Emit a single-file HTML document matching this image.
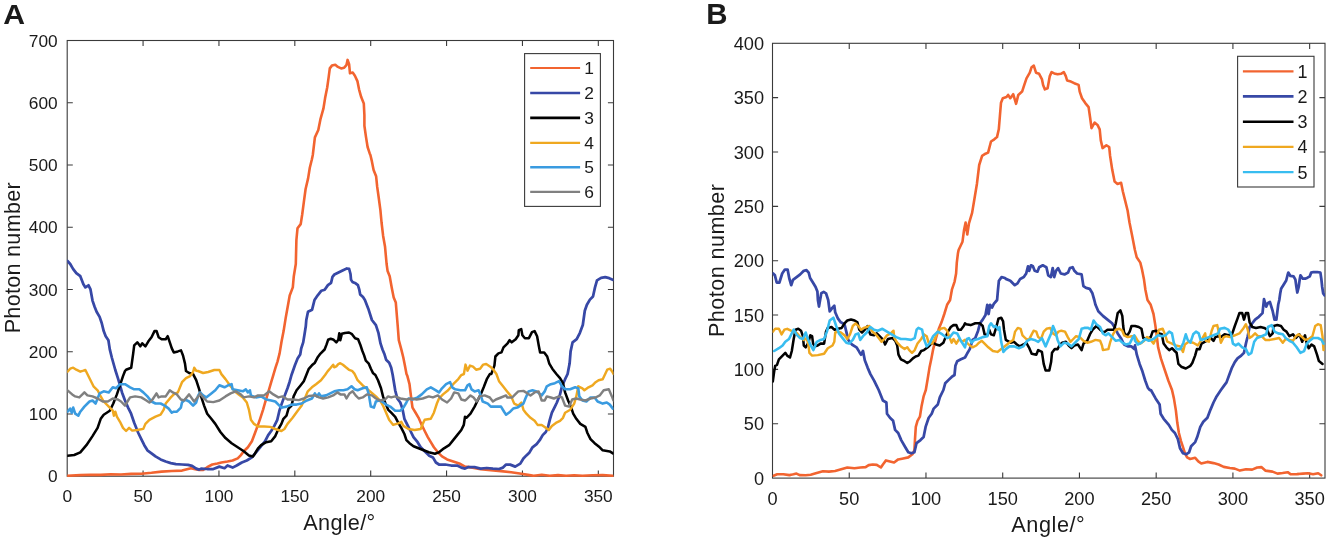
<!DOCTYPE html>
<html><head><meta charset="utf-8"><title>Figure</title>
<style>
html,body{margin:0;padding:0;background:#fff;}
body{width:1329px;height:541px;overflow:hidden;font-family:"Liberation Sans",sans-serif;}
svg{display:block;}
svg text{font-family:"Liberation Sans",sans-serif;fill:#1a1a1a;}
</style></head><body>
<svg width="1329" height="541" viewBox="0 0 1329 541">
<rect width="1329" height="541" fill="#fff"/>
<g opacity="0.999">
<rect x="67.2" y="40.5" width="546.30" height="435.70" fill="none" stroke="#3a3a3a" stroke-width="1.1"/>
<text x="67.20" y="501.80" text-anchor="middle" font-size="17.3">0</text>
<path d="M143.07 476.2v-5.6M143.07 40.5v5.6" stroke="#3a3a3a" stroke-width="1.1"/>
<text x="143.07" y="501.80" text-anchor="middle" font-size="17.3">50</text>
<path d="M218.95 476.2v-5.6M218.95 40.5v5.6" stroke="#3a3a3a" stroke-width="1.1"/>
<text x="218.95" y="501.80" text-anchor="middle" font-size="17.3">100</text>
<path d="M294.82 476.2v-5.6M294.82 40.5v5.6" stroke="#3a3a3a" stroke-width="1.1"/>
<text x="294.82" y="501.80" text-anchor="middle" font-size="17.3">150</text>
<path d="M370.70 476.2v-5.6M370.70 40.5v5.6" stroke="#3a3a3a" stroke-width="1.1"/>
<text x="370.70" y="501.80" text-anchor="middle" font-size="17.3">200</text>
<path d="M446.57 476.2v-5.6M446.57 40.5v5.6" stroke="#3a3a3a" stroke-width="1.1"/>
<text x="446.57" y="501.80" text-anchor="middle" font-size="17.3">250</text>
<path d="M522.45 476.2v-5.6M522.45 40.5v5.6" stroke="#3a3a3a" stroke-width="1.1"/>
<text x="522.45" y="501.80" text-anchor="middle" font-size="17.3">300</text>
<path d="M598.32 476.2v-5.6M598.32 40.5v5.6" stroke="#3a3a3a" stroke-width="1.1"/>
<text x="598.32" y="501.80" text-anchor="middle" font-size="17.3">350</text>
<text x="57.70" y="482.40" text-anchor="end" font-size="17.3">0</text>
<path d="M67.2 413.96h5.6M613.5 413.96h-5.6" stroke="#3a3a3a" stroke-width="1.1"/>
<text x="57.70" y="420.16" text-anchor="end" font-size="17.3">100</text>
<path d="M67.2 351.71h5.6M613.5 351.71h-5.6" stroke="#3a3a3a" stroke-width="1.1"/>
<text x="57.70" y="357.91" text-anchor="end" font-size="17.3">200</text>
<path d="M67.2 289.47h5.6M613.5 289.47h-5.6" stroke="#3a3a3a" stroke-width="1.1"/>
<text x="57.70" y="295.67" text-anchor="end" font-size="17.3">300</text>
<path d="M67.2 227.23h5.6M613.5 227.23h-5.6" stroke="#3a3a3a" stroke-width="1.1"/>
<text x="57.70" y="233.43" text-anchor="end" font-size="17.3">400</text>
<path d="M67.2 164.99h5.6M613.5 164.99h-5.6" stroke="#3a3a3a" stroke-width="1.1"/>
<text x="57.70" y="171.19" text-anchor="end" font-size="17.3">500</text>
<path d="M67.2 102.74h5.6M613.5 102.74h-5.6" stroke="#3a3a3a" stroke-width="1.1"/>
<text x="57.70" y="108.94" text-anchor="end" font-size="17.3">600</text>
<text x="57.70" y="46.70" text-anchor="end" font-size="17.3">700</text>
<rect x="772.5" y="43.3" width="552.50" height="434.80" fill="none" stroke="#3a3a3a" stroke-width="1.1"/>
<text x="772.50" y="504.60" text-anchor="middle" font-size="18.2">0</text>
<path d="M849.24 478.1v-5.6M849.24 43.3v5.6" stroke="#3a3a3a" stroke-width="1.1"/>
<text x="849.24" y="504.60" text-anchor="middle" font-size="18.2">50</text>
<path d="M925.97 478.1v-5.6M925.97 43.3v5.6" stroke="#3a3a3a" stroke-width="1.1"/>
<text x="925.97" y="504.60" text-anchor="middle" font-size="18.2">100</text>
<path d="M1002.71 478.1v-5.6M1002.71 43.3v5.6" stroke="#3a3a3a" stroke-width="1.1"/>
<text x="1002.71" y="504.60" text-anchor="middle" font-size="18.2">150</text>
<path d="M1079.44 478.1v-5.6M1079.44 43.3v5.6" stroke="#3a3a3a" stroke-width="1.1"/>
<text x="1079.44" y="504.60" text-anchor="middle" font-size="18.2">200</text>
<path d="M1156.18 478.1v-5.6M1156.18 43.3v5.6" stroke="#3a3a3a" stroke-width="1.1"/>
<text x="1156.18" y="504.60" text-anchor="middle" font-size="18.2">250</text>
<path d="M1232.92 478.1v-5.6M1232.92 43.3v5.6" stroke="#3a3a3a" stroke-width="1.1"/>
<text x="1232.92" y="504.60" text-anchor="middle" font-size="18.2">300</text>
<path d="M1309.65 478.1v-5.6M1309.65 43.3v5.6" stroke="#3a3a3a" stroke-width="1.1"/>
<text x="1309.65" y="504.60" text-anchor="middle" font-size="18.2">350</text>
<text x="764.10" y="484.60" text-anchor="end" font-size="18.2">0</text>
<path d="M772.5 423.75h5.6M1325.0 423.75h-5.6" stroke="#3a3a3a" stroke-width="1.1"/>
<text x="764.10" y="430.25" text-anchor="end" font-size="18.2">50</text>
<path d="M772.5 369.40h5.6M1325.0 369.40h-5.6" stroke="#3a3a3a" stroke-width="1.1"/>
<text x="764.10" y="375.90" text-anchor="end" font-size="18.2">100</text>
<path d="M772.5 315.05h5.6M1325.0 315.05h-5.6" stroke="#3a3a3a" stroke-width="1.1"/>
<text x="764.10" y="321.55" text-anchor="end" font-size="18.2">150</text>
<path d="M772.5 260.70h5.6M1325.0 260.70h-5.6" stroke="#3a3a3a" stroke-width="1.1"/>
<text x="764.10" y="267.20" text-anchor="end" font-size="18.2">200</text>
<path d="M772.5 206.35h5.6M1325.0 206.35h-5.6" stroke="#3a3a3a" stroke-width="1.1"/>
<text x="764.10" y="212.85" text-anchor="end" font-size="18.2">250</text>
<path d="M772.5 152.00h5.6M1325.0 152.00h-5.6" stroke="#3a3a3a" stroke-width="1.1"/>
<text x="764.10" y="158.50" text-anchor="end" font-size="18.2">300</text>
<path d="M772.5 97.65h5.6M1325.0 97.65h-5.6" stroke="#3a3a3a" stroke-width="1.1"/>
<text x="764.10" y="104.15" text-anchor="end" font-size="18.2">350</text>
<text x="764.10" y="49.80" text-anchor="end" font-size="18.2">400</text>
<clipPath id="clipA"><rect x="67.2" y="40.5" width="546.30" height="437.20"/></clipPath>
<g clip-path="url(#clipA)">
<path d="M67.5 475.7L80.3 475.1L90.5 474.7L100.7 474.9L110.8 474.3L121.0 474.5L131.1 473.9L141.3 473.7L151.5 472.8L161.6 471.6L171.8 471.0L182.0 470.6L188.0 469.0L191.1 468.2L195.2 469.2L199.2 470.0L203.1 470.0L207.2 467.2L212.3 464.5L217.4 463.5L221.4 462.5L227.5 461.5L232.6 460.5L237.7 458.4L240.7 455.4L243.8 451.3L247.9 447.3L251.9 441.2L255.0 433.0L258.0 424.9L260.1 418.8L263.1 409.6L265.1 402.5L268.2 392.4L271.2 382.2L273.3 375.1L275.5 367.7L277.5 361.6L279.6 353.4L281.6 341.3L283.6 331.1L285.7 317.9L287.7 306.7L289.7 295.5L292.8 287.4L293.8 276.2L295.8 264.0L296.4 240.0L297.5 228.3L300.7 224.1L302.2 214.5L303.9 201.7L305.6 189.0L308.1 178.4L309.8 167.7L311.9 159.2L312.8 155.0L314.9 137.4L318.3 130.0L320.4 119.4L323.4 108.7L325.1 98.1L327.2 87.5L328.7 76.9L329.8 68.4L331.9 65.6L335.3 64.8L337.9 66.9L341.1 68.4L344.2 67.7L346.4 65.2L347.6 59.9L349.1 64.1L350.0 73.3L352.7 72.6L354.9 75.8L357.4 81.1L359.1 89.6L361.2 97.1L363.8 103.4L364.4 115.1L364.4 125.7L365.9 136.4L367.6 147.0L369.7 153.4L370.4 155.0L371.9 161.4L373.6 169.9L376.1 176.2L377.2 186.9L378.7 197.5L380.4 210.2L381.6 223.0L383.1 235.7L385.0 246.4L386.6 264.0L387.6 271.1L389.7 276.2L391.7 287.4L393.7 297.5L395.8 302.6L396.8 314.8L397.8 327.0L398.8 340.2L401.3 349.4L403.3 357.5L404.9 365.6L406.5 374.0L407.4 376.1L409.5 384.2L410.5 392.4L411.5 400.5L412.5 407.6L415.6 412.7L418.6 417.8L421.7 424.9L424.7 431.0L427.8 437.1L430.8 442.2L433.9 447.3L437.9 452.3L442.0 456.4L447.1 459.4L453.2 461.5L459.3 463.5L465.0 466.6L472.5 467.6L480.7 469.2L490.8 470.3L501.0 471.1L511.2 472.3L521.4 473.7L529.5 475.1L533.6 475.8L541.7 474.7L549.8 475.8L558.0 475.1L566.1 475.8L574.2 475.3L582.4 475.8L592.5 475.3L602.7 475.1L612.9 475.8" fill="none" stroke="#F26430" stroke-width="2.6" stroke-linejoin="round" stroke-linecap="round"/>
<path d="M67.5 261.0L70.2 264.0L73.2 269.1L76.3 273.1L80.3 276.2L83.4 284.3L85.4 287.4L88.5 285.3L90.5 289.4L92.5 300.6L94.6 306.7L96.6 311.8L99.6 316.9L101.7 323.0L103.7 331.1L105.7 336.2L108.4 340.2L109.8 349.4L111.8 357.5L115.3 370.0L117.9 378.1L120.0 385.2L122.0 392.4L125.0 400.5L128.1 407.6L131.1 413.7L134.2 422.8L138.3 433.0L141.3 439.1L144.3 445.2L147.4 450.3L151.5 453.3L155.5 456.4L160.6 459.4L165.7 461.5L170.8 463.1L175.9 464.1L182.0 464.5L188.0 464.9L192.1 465.9L196.2 468.6L199.2 469.6L201.1 468.6L207.2 469.0L213.3 469.0L219.4 466.6L224.5 468.2L227.5 465.5L232.6 467.6L236.7 465.5L241.8 462.5L246.8 460.5L251.9 457.4L256.0 452.3L260.1 447.3L265.1 441.2L268.2 435.1L271.2 431.0L274.3 425.9L277.3 419.8L279.4 410.7L281.4 404.6L284.4 396.4L287.5 388.3L289.5 382.2L291.5 375.0L295.1 364.7L297.6 358.6L300.2 354.6L301.2 348.5L303.2 342.4L304.7 333.2L305.8 326.1L306.3 320.0L308.0 311.8L312.1 309.7L314.5 300.0L317.7 295.3L321.4 290.7L324.7 289.7L327.9 285.1L331.1 282.8L332.5 276.8L334.4 274.5L339.0 272.2L343.6 269.9L346.8 268.5L349.1 268.9L350.5 274.0L351.0 279.6L352.4 281.9L355.6 283.3L357.9 285.1L359.3 289.7L360.2 294.4L363.0 297.1L364.9 300.0L368.3 308.7L371.9 320.0L375.9 325.1L378.5 333.2L380.5 343.4L382.5 349.5L384.6 354.6L386.1 359.7L389.2 362.7L391.2 367.8L392.7 375.0L395.2 390.3L397.3 398.5L400.3 402.5L402.4 408.6L404.4 418.8L407.4 424.9L410.5 431.0L413.5 437.1L417.6 442.2L420.7 447.3L424.7 451.3L428.8 455.4L432.9 457.4L435.9 462.5L439.0 464.5L445.1 464.5L451.1 465.5L457.2 465.5L461.3 467.6L465.0 468.6L468.5 467.0L474.6 467.2L480.7 468.6L486.8 468.0L492.9 468.6L499.0 469.0L503.0 467.6L506.1 464.6L510.2 464.6L515.2 466.6L520.3 463.6L523.4 458.5L526.4 455.4L529.5 452.4L532.5 447.3L536.6 444.2L539.7 440.2L542.7 435.1L545.8 432.0L547.8 428.0L549.8 419.8L551.9 412.7L554.9 406.6L556.9 402.5L560.0 394.4L562.0 386.3L565.1 379.2L567.6 374.0L569.6 363.6L570.6 351.4L572.6 342.3L576.7 339.2L579.8 333.1L582.8 325.0L584.8 310.8L586.9 304.7L589.9 299.6L593.0 296.5L595.0 287.4L597.0 280.3L601.1 277.8L605.2 277.2L609.2 278.2L613.3 279.9" fill="none" stroke="#3748A6" stroke-width="2.75" stroke-linejoin="round" stroke-linecap="round"/>
<path d="M67.5 455.8L74.2 455.0L80.3 452.3L86.4 445.2L92.5 436.1L97.6 427.9L100.7 418.8L103.7 414.7L109.8 410.7L113.3 403.5L116.9 394.4L120.0 385.2L123.0 376.1L125.0 371.0L126.1 369.7L131.2 367.7L133.2 353.4L134.2 345.3L137.3 342.3L140.3 346.3L142.3 343.3L145.4 346.3L148.4 341.3L151.5 337.2L154.5 331.1L156.6 331.1L158.6 337.2L161.6 339.2L165.7 339.2L167.7 336.2L169.8 342.3L171.8 348.4L173.8 352.4L177.9 351.4L181.0 350.4L183.0 355.5L185.0 363.6L186.0 371.0L189.1 373.0L193.1 374.1L196.2 380.2L199.2 389.3L201.1 396.4L204.1 405.6L207.2 413.7L211.3 418.8L215.3 423.9L220.4 432.0L225.5 438.1L231.6 443.2L237.7 447.3L243.8 451.3L248.9 455.4L252.9 456.4L255.0 453.4L258.0 448.3L261.1 445.2L266.2 442.2L271.2 441.2L275.3 436.1L278.4 429.0L281.4 423.9L283.4 418.8L286.5 415.7L288.5 408.6L291.6 405.6L293.6 396.4L296.6 390.3L300.7 385.2L303.8 381.2L306.3 375.0L308.8 368.8L311.9 365.3L314.9 362.7L317.5 357.6L320.5 353.6L324.6 349.5L326.6 344.4L328.1 339.8L330.7 338.8L333.7 339.8L336.3 342.4L338.3 339.8L339.3 333.2L340.3 340.3L341.9 333.7L344.9 332.9L349.0 332.5L352.0 334.2L355.1 338.3L358.1 339.3L360.2 344.4L362.2 350.5L364.2 355.6L365.8 360.7L368.8 363.7L370.9 368.8L372.9 372.9L375.4 375.0L378.0 380.2L381.0 388.3L383.0 396.4L385.1 402.5L388.1 409.6L391.2 412.7L395.2 416.8L398.3 422.9L401.3 427.9L404.4 434.0L406.4 440.1L409.5 443.2L413.5 446.2L418.6 448.3L423.7 450.3L428.8 452.3L434.9 453.8L439.0 452.3L444.0 448.3L449.1 445.2L453.2 440.1L457.2 435.1L461.3 430.0L463.8 424.9L465.0 416.8L466.4 417.8L470.5 413.7L474.6 406.6L477.6 400.5L480.7 394.4L483.7 387.3L486.8 379.2L489.8 374.1L491.3 374.0L494.4 365.6L495.4 356.5L498.4 353.4L501.5 352.4L503.5 347.4L507.6 343.3L509.6 340.2L511.7 342.3L515.7 339.2L518.4 335.2L518.8 330.1L521.2 329.1L522.4 335.2L524.9 338.2L528.9 338.2L532.0 332.1L534.6 331.1L537.1 336.2L538.7 345.3L540.1 352.4L544.2 352.4L547.2 356.5L549.3 363.6L552.3 368.7L556.4 374.0L560.0 378.1L563.0 383.2L565.1 392.4L568.1 400.5L571.2 407.6L573.2 413.7L576.3 418.8L580.3 423.9L585.4 426.9L587.4 433.0L590.5 439.1L594.6 443.2L599.7 447.3L602.7 450.3L609.8 451.4L612.9 453.4" fill="none" stroke="#000000" stroke-width="2.55" stroke-linejoin="round" stroke-linecap="round"/>
<path d="M67.5 371.7L70.2 368.7L73.2 367.7L76.3 369.7L80.3 371.7L83.4 370.7L85.4 370.0L90.5 380.2L93.5 386.3L97.6 390.3L100.7 396.4L103.7 401.5L108.8 406.6L112.8 410.7L113.9 415.7L115.3 411.7L116.9 416.7L120.0 421.8L123.0 427.9L126.1 431.0L129.1 427.9L132.2 430.6L137.2 430.0L143.3 428.9L145.4 423.9L149.4 419.8L155.5 416.7L160.6 414.7L163.7 409.6L165.7 403.5L170.8 397.4L173.8 394.4L177.9 392.4L182.0 382.2L186.0 378.1L190.1 376.1L193.1 372.0L194.2 367.7L196.2 370.7L198.0 371.0L203.1 373.0L208.2 372.0L214.3 370.0L219.4 370.0L221.4 374.1L225.5 379.1L230.6 386.3L234.6 391.3L238.7 394.4L242.8 397.4L246.8 402.5L248.9 409.6L250.9 419.8L254.0 423.9L258.0 426.5L264.1 426.5L270.2 426.9L275.3 429.0L281.4 431.0L284.4 429.0L287.5 423.9L292.6 417.8L297.7 410.7L301.7 405.6L304.8 398.5L307.8 391.3L311.9 387.3L316.0 384.2L321.0 380.2L325.1 375.0L327.6 371.4L330.7 367.8L333.2 364.7L334.2 367.3L336.3 366.3L338.3 364.2L340.3 363.2L342.9 364.7L345.9 367.3L349.0 369.8L352.0 370.8L354.6 373.9L355.1 375.0L357.6 380.2L363.7 386.3L369.8 391.3L375.9 396.4L380.0 400.5L383.0 405.6L386.1 412.7L389.1 419.8L393.2 424.9L398.3 423.3L401.3 421.8L403.4 425.9L408.5 429.0L414.6 430.0L420.7 429.0L422.7 423.9L424.7 419.8L430.8 418.8L433.9 412.7L436.9 403.5L439.0 398.5L443.0 394.4L448.1 390.3L453.2 384.2L458.3 379.1L461.3 375.1L463.9 374.0L465.5 364.6L467.5 370.7L470.0 365.6L473.0 366.7L476.1 369.7L480.1 368.7L483.2 364.6L486.2 364.0L490.3 366.7L493.4 369.7L496.4 374.0L499.0 381.2L503.0 386.3L507.1 391.4L511.2 396.4L514.2 403.6L518.3 405.6L521.4 402.5L523.4 409.7L526.4 413.7L530.5 417.8L534.6 420.8L537.6 424.9L541.7 424.9L544.7 426.9L548.8 430.0L551.9 425.9L555.9 422.9L560.0 420.8L563.0 417.8L565.1 412.7L570.2 409.7L574.2 403.6L576.3 396.4L578.3 386.3L582.4 388.3L584.4 390.3L588.5 387.3L592.5 385.3L595.6 382.2L598.6 380.2L602.7 379.2L605.2 374.0L607.2 369.7L610.2 368.7L612.3 371.7L613.5 374.0" fill="none" stroke="#EFA820" stroke-width="2.45" stroke-linejoin="round" stroke-linecap="round"/>
<path d="M67.5 411.7L70.2 408.6L71.8 412.7L73.2 407.6L75.2 413.7L78.3 415.7L80.3 411.7L84.4 406.6L89.5 401.5L92.5 400.5L95.6 403.5L97.6 398.5L99.6 393.4L103.7 391.3L108.8 392.4L112.8 387.3L115.9 388.3L120.0 384.2L125.0 384.2L130.1 387.3L134.2 389.3L139.3 389.3L143.3 392.4L147.4 396.4L151.5 401.5L155.5 403.5L160.6 403.5L164.7 405.6L168.7 408.6L171.8 412.7L173.8 411.7L176.9 411.7L180.9 407.6L182.0 402.5L185.0 399.5L189.1 401.5L193.1 405.6L196.2 402.5L198.2 395.4L200.1 392.4L203.1 395.4L206.2 397.4L211.3 393.4L215.3 390.3L219.4 385.2L224.5 387.3L228.5 385.2L231.6 384.2L232.6 389.3L237.7 390.3L242.8 391.3L245.8 389.3L247.9 392.4L249.9 390.3L250.9 395.4L256.0 397.4L261.1 396.4L266.2 399.5L271.2 400.5L275.3 401.5L278.4 404.6L281.4 407.6L286.5 406.6L291.6 404.6L296.6 404.6L301.7 403.5L306.8 400.5L311.9 398.5L314.9 393.4L317.0 396.4L319.0 393.4L321.0 396.4L326.1 395.4L330.2 393.4L334.3 391.3L339.3 390.3L343.4 390.3L347.5 389.3L351.5 386.3L354.6 389.3L357.6 390.3L362.7 388.3L366.8 387.3L368.8 394.4L370.8 406.6L373.9 407.6L375.9 401.5L379.0 400.5L382.0 401.5L386.1 404.6L390.2 406.6L395.2 410.7L400.3 410.7L403.4 407.6L406.4 402.5L408.5 398.5L412.5 399.5L417.6 397.4L421.7 394.4L426.8 389.3L430.8 387.3L435.9 390.3L439.0 392.4L442.0 388.3L446.1 384.2L450.1 382.2L452.2 387.3L455.2 389.3L460.3 390.3L465.0 390.3L467.5 385.3L469.5 384.2L471.5 389.3L474.6 391.4L478.6 390.3L480.7 395.4L482.7 401.5L487.8 403.6L490.8 406.6L495.9 406.6L501.0 406.6L504.1 411.7L506.1 414.7L510.2 411.7L513.2 408.6L517.3 407.6L520.3 405.6L523.4 403.6L525.4 398.5L528.5 391.4L532.5 390.3L536.6 391.4L541.7 395.4L544.7 391.4L546.8 386.3L550.8 384.2L554.9 383.2L559.0 381.2L562.0 386.3L565.1 389.3L570.2 389.3L575.2 387.3L578.3 388.3L579.3 396.4L582.4 400.5L586.4 401.5L590.5 397.5L594.6 397.5L597.6 401.5L602.7 403.6L606.8 402.5L609.8 404.6L612.9 408.6" fill="none" stroke="#3A9BE0" stroke-width="2.6" stroke-linejoin="round" stroke-linecap="round"/>
<path d="M67.5 390.3L72.2 394.4L75.2 396.4L79.3 397.4L82.4 394.4L84.4 392.4L87.4 395.4L92.5 396.4L97.6 398.5L102.7 401.5L107.8 401.5L112.8 398.5L117.9 399.5L121.0 401.5L125.0 405.6L128.1 400.5L130.1 397.4L135.2 396.4L141.3 397.4L146.4 400.5L149.4 402.5L152.5 399.5L156.5 393.4L158.6 397.4L161.6 396.4L165.7 396.4L169.8 390.3L172.8 392.4L176.9 394.4L180.9 399.5L184.0 400.5L189.1 394.4L194.1 401.5L199.2 395.4L200.1 393.4L203.1 397.4L207.2 401.5L213.3 402.1L219.4 400.5L225.5 396.4L230.6 393.4L235.7 391.3L240.7 394.4L243.8 397.4L248.9 396.4L254.0 397.4L258.0 395.4L264.1 395.4L269.2 391.3L273.3 394.4L278.4 397.4L282.4 396.4L287.5 399.5L292.6 399.5L298.7 400.1L303.8 398.5L308.8 396.0L314.9 395.4L319.0 397.4L323.1 398.5L328.2 397.4L333.2 395.4L337.3 392.4L340.4 394.4L344.4 394.4L346.5 398.5L349.5 393.4L352.6 391.3L355.6 395.4L358.7 398.5L362.7 397.4L366.8 394.4L371.9 395.4L375.9 398.5L380.0 400.5L385.1 399.5L388.1 396.4L391.2 397.4L395.2 396.4L400.3 398.5L406.4 399.5L411.5 398.5L416.6 399.5L422.7 398.5L428.8 396.4L432.9 397.4L437.9 395.4L442.0 399.5L447.1 402.5L451.1 398.5L454.2 392.4L458.3 393.4L461.3 399.5L465.0 400.5L466.4 399.5L470.5 395.4L473.6 397.5L476.6 401.5L479.7 396.4L484.7 395.4L489.8 397.5L492.9 401.5L495.9 399.5L501.0 397.5L506.1 395.4L507.1 397.5L512.2 397.5L515.2 394.4L518.3 391.4L523.4 390.9L527.5 393.4L530.5 395.4L534.6 392.4L538.6 391.4L541.7 400.5L544.7 400.5L546.8 396.4L550.8 397.5L553.9 398.5L559.0 396.4L562.0 397.5L565.1 405.6L569.1 406.6L572.2 399.5L576.3 398.5L580.3 399.5L585.4 400.5L590.5 398.5L595.6 397.5L599.7 395.4L603.7 390.3L608.8 389.3L611.9 396.4L613.5 400.5" fill="none" stroke="#808080" stroke-width="2.45" stroke-linejoin="round" stroke-linecap="round"/>
</g>
<clipPath id="clipB"><rect x="772.5" y="43.3" width="552.50" height="436.30"/></clipPath>
<g clip-path="url(#clipB)">
<path d="M773.5 475.7L777.2 474.3L783.3 474.3L789.4 475.1L793.5 474.3L796.5 473.6L799.6 475.1L805.7 475.3L810.7 474.7L815.8 473.2L822.9 471.2L829.0 471.6L835.1 471.0L841.2 469.2L847.3 467.5L854.4 468.2L860.5 467.5L865.6 467.1L868.7 465.1L872.7 464.5L876.8 464.9L880.9 467.5L882.9 464.5L886.0 460.4L890.0 461.4L894.1 462.5L898.2 459.4L903.2 458.4L908.3 457.4L912.4 454.3L914.4 450.3L915.0 439.1L915.8 426.9L917.5 420.8L919.9 416.7L921.5 406.6L923.6 396.4L925.8 390.0L927.7 378.7L929.5 367.6L931.4 358.4L933.2 349.1L936.0 338.1L938.8 328.8L941.5 322.3L944.3 314.0L947.1 304.8L950.1 300.0L951.9 289.7L954.6 281.6L956.1 273.5L956.8 262.6L957.9 253.6L958.6 250.0L962.5 241.7L964.1 229.7L965.6 222.5L967.3 234.5L968.9 223.7L972.1 212.9L974.5 198.5L976.9 184.0L979.2 165.0L982.1 155.9L985.5 153.7L988.1 152.6L991.0 141.5L994.3 139.3L997.0 137.1L998.8 129.3L999.9 116.0L1001.0 102.7L1002.8 98.2L1006.5 97.1L1008.1 94.9L1010.3 98.2L1013.2 94.2L1016.1 103.8L1018.3 94.9L1022.1 91.6L1024.3 84.9L1026.5 78.3L1029.8 72.7L1031.6 67.2L1033.8 65.6L1036.0 72.7L1039.1 73.8L1042.0 79.4L1043.1 84.9L1044.9 89.4L1047.6 88.3L1049.8 76.1L1051.6 72.1L1054.2 73.4L1057.6 74.3L1060.9 73.8L1063.8 72.1L1065.8 76.1L1067.1 80.5L1070.9 81.6L1074.2 83.2L1078.6 84.9L1079.7 91.6L1082.0 98.2L1085.3 103.1L1088.6 107.1L1090.2 118.2L1091.5 128.2L1094.6 122.6L1097.5 124.9L1099.7 129.3L1100.8 140.4L1102.6 148.1L1106.4 145.3L1109.2 147.0L1110.1 155.9L1111.5 165.0L1112.2 169.6L1114.6 181.6L1117.5 184.0L1121.1 182.8L1122.8 191.2L1125.2 200.9L1127.6 210.5L1129.5 222.5L1131.9 234.5L1134.9 250.0L1136.7 257.2L1140.3 262.6L1142.1 269.9L1143.9 278.9L1145.4 289.7L1147.5 300.0L1150.7 304.8L1153.5 314.0L1155.3 325.1L1156.8 336.2L1158.1 347.3L1160.9 358.4L1164.6 369.5L1168.3 380.5L1172.0 390.0L1173.9 398.4L1175.9 410.6L1177.3 422.8L1178.9 433.0L1181.0 441.1L1183.0 447.2L1185.0 453.3L1187.1 457.4L1190.1 459.0L1195.2 457.8L1198.3 461.4L1201.3 463.5L1207.4 461.9L1213.5 463.1L1218.6 464.5L1223.7 466.9L1229.8 468.0L1234.8 468.6L1239.9 470.6L1246.0 469.2L1252.1 469.6L1257.2 467.5L1261.3 467.1L1265.3 470.6L1272.5 471.6L1277.5 473.6L1282.6 473.0L1287.7 472.2L1290.8 474.3L1296.9 474.1L1303.0 473.6L1308.0 473.2L1313.1 474.3L1318.2 473.2L1321.2 475.3" fill="none" stroke="#F26430" stroke-width="2.6" stroke-linejoin="round" stroke-linecap="round"/>
<path d="M773.1 273.5L774.9 275.3L776.7 282.5L779.4 282.5L782.2 273.5L784.9 269.5L787.6 269.5L789.4 278.9L791.2 285.2L793.0 279.8L796.6 277.1L800.2 274.4L803.8 270.8L806.5 270.2L808.7 272.6L810.1 278.0L812.9 282.5L815.6 287.0L817.4 291.5L817.9 300.0L819.0 306.6L820.1 300.0L821.3 293.3L823.7 291.9L826.0 293.3L828.2 300.0L829.7 311.3L832.5 307.6L834.3 305.7L835.2 312.2L838.0 318.7L840.8 322.3L844.5 324.2L846.3 331.6L848.2 339.9L851.9 344.5L856.5 347.3L859.3 351.9L861.1 354.7L863.0 351.0L864.8 360.2L867.6 367.6L870.4 374.1L874.1 380.6L876.8 386.1L878.7 390.0L882.9 400.5L886.4 402.5L887.0 413.7L890.0 417.7L893.1 420.8L895.1 429.9L898.2 433.0L901.2 440.1L905.3 447.2L908.3 452.3L911.4 453.3L914.4 452.3L916.5 443.2L920.5 440.1L923.6 437.1L925.6 426.9L928.7 417.7L931.7 413.7L933.7 408.6L937.8 404.5L939.8 397.4L943.4 390.0L945.2 383.3L948.9 379.6L951.7 376.9L954.5 375.0L955.4 365.8L957.2 361.2L960.9 359.3L965.0 357.5L967.0 353.8L969.8 349.1L972.6 339.9L975.3 338.1L978.1 330.7L980.0 323.3L982.7 319.6L985.5 315.0L987.3 304.8L988.6 314.0L990.1 304.8L992.0 307.6L993.8 303.9L997.1 300.0L998.0 289.7L998.9 280.7L1001.6 277.1L1005.0 278.0L1005.8 278.9L1010.3 280.7L1014.8 285.2L1017.5 283.4L1020.2 278.9L1023.8 277.1L1026.2 273.5L1028.0 266.3L1029.2 270.8L1031.0 265.3L1032.9 266.3L1034.7 270.8L1037.4 271.7L1039.2 267.2L1042.8 265.3L1046.4 267.2L1048.2 275.3L1050.9 277.1L1052.7 268.1L1054.2 277.1L1056.0 270.8L1058.1 268.1L1060.8 273.5L1064.5 274.4L1068.1 272.6L1069.9 268.1L1072.6 267.2L1074.4 270.8L1077.1 273.5L1081.6 274.4L1083.4 286.1L1086.1 287.9L1089.7 288.8L1092.4 293.3L1094.3 300.0L1095.5 304.8L1098.3 311.3L1102.9 315.9L1107.5 319.6L1112.1 323.3L1114.9 327.9L1117.7 333.4L1121.4 339.0L1124.1 344.5L1127.8 346.4L1131.5 346.4L1134.3 349.1L1135.0 345.4L1136.8 354.7L1139.6 363.9L1142.4 371.3L1145.2 380.5L1147.9 387.9L1149.8 390.0L1150.9 390.0L1155.6 398.4L1159.6 404.5L1160.6 413.7L1163.7 418.8L1168.8 424.9L1171.8 429.9L1174.9 433.0L1177.9 439.1L1180.0 448.2L1183.0 453.3L1186.1 454.3L1189.1 452.3L1191.1 446.2L1195.2 442.1L1197.2 437.1L1200.3 426.9L1203.3 421.8L1207.4 417.7L1210.5 409.6L1213.5 402.5L1216.6 396.4L1220.9 390.0L1223.7 386.1L1226.5 382.4L1229.2 375.0L1232.0 367.6L1234.8 362.1L1237.5 358.4L1241.2 355.6L1244.0 352.8L1245.9 343.6L1247.7 336.2L1249.6 327.0L1252.3 323.3L1255.1 319.6L1258.8 316.8L1262.5 313.1L1264.0 299.2L1266.2 306.6L1268.0 302.9L1269.9 302.0L1272.7 311.2L1274.5 319.6L1276.4 319.6L1278.2 304.8L1279.3 300.0L1280.2 293.5L1281.1 288.8L1283.9 284.2L1286.2 280.5L1287.6 275.0L1288.3 272.6L1290.4 275.9L1293.6 276.3L1295.4 279.6L1296.4 287.0L1297.3 292.5L1298.7 287.0L1299.8 278.7L1300.5 275.4L1302.8 278.7L1305.1 278.7L1307.5 277.7L1309.8 276.3L1311.2 272.6L1313.5 272.0L1317.2 272.0L1320.4 272.6L1321.3 278.7L1322.2 287.0L1323.2 293.5L1324.6 295.3" fill="none" stroke="#3748A6" stroke-width="2.75" stroke-linejoin="round" stroke-linecap="round"/>
<path d="M772.8 381.5L774.2 371.3L775.2 365.8L777.0 364.9L778.9 359.3L782.6 355.6L785.3 352.8L787.2 355.6L790.0 357.5L791.8 351.0L793.7 339.0L795.5 329.7L798.3 328.8L801.0 330.7L802.9 336.2L803.8 345.5L805.7 347.3L808.4 342.7L810.3 335.3L812.1 336.2L813.1 343.6L814.9 346.4L817.7 345.5L820.5 343.6L824.1 343.6L826.0 331.6L827.8 327.9L831.5 327.0L834.3 329.7L838.0 328.8L841.7 327.9L844.5 323.3L847.3 320.5L851.0 319.6L854.6 320.5L857.4 322.3L859.3 329.7L862.0 332.5L864.8 329.7L867.6 326.0L868.5 329.7L870.4 334.4L874.1 335.3L876.8 333.4L879.6 336.2L883.3 339.9L885.1 344.5L887.9 339.0L892.5 338.1L895.3 340.8L897.2 345.5L898.5 354.7L900.9 359.3L904.6 361.2L907.3 363.0L910.1 361.2L912.9 358.4L915.6 356.5L918.4 355.6L921.2 351.0L924.0 350.1L927.7 347.3L930.4 344.5L933.2 342.7L936.0 344.5L939.7 345.5L943.4 342.7L945.2 338.1L948.0 331.6L950.8 327.0L953.5 325.1L956.3 325.1L958.2 329.7L960.9 329.7L963.7 326.0L965.0 323.3L966.1 324.2L970.7 325.1L975.3 323.3L980.0 323.3L982.7 326.0L984.6 334.4L987.3 335.3L989.2 329.7L991.0 334.4L993.8 335.3L996.6 326.0L998.4 318.7L1001.2 317.7L1003.1 321.4L1004.0 329.7L1005.8 339.9L1010.5 342.7L1014.1 341.8L1016.9 344.5L1019.7 346.4L1023.4 344.5L1026.2 342.7L1028.9 347.3L1031.7 353.8L1036.3 354.7L1038.2 350.1L1041.9 351.9L1043.7 363.9L1045.6 370.4L1049.3 370.4L1051.1 362.1L1052.0 352.8L1054.8 349.1L1057.6 349.1L1059.4 345.5L1062.2 342.7L1065.9 341.8L1068.7 345.5L1071.5 348.2L1074.2 345.5L1077.9 344.5L1081.6 350.1L1083.5 343.6L1087.2 340.8L1089.9 334.4L1092.7 329.7L1096.4 326.0L1100.1 329.7L1103.8 332.5L1107.5 329.7L1111.2 329.7L1114.0 329.7L1115.8 323.3L1117.7 313.1L1120.4 310.3L1122.3 315.9L1123.2 326.0L1124.1 332.5L1126.9 336.2L1129.7 331.6L1131.5 326.0L1135.0 326.0L1138.7 327.0L1141.5 328.8L1143.3 338.0L1147.0 339.0L1150.7 337.1L1152.6 331.6L1156.2 330.7L1159.0 333.4L1161.8 334.3L1163.6 343.6L1166.4 347.3L1169.2 350.1L1172.0 348.2L1174.7 351.0L1176.6 352.8L1178.4 363.9L1181.2 366.7L1185.8 368.5L1190.4 365.8L1192.3 363.0L1195.1 355.6L1196.9 349.1L1199.7 349.1L1201.5 343.6L1205.2 341.7L1208.0 339.9L1210.8 338.0L1213.5 340.8L1215.4 337.1L1218.1 336.2L1220.9 337.1L1224.6 334.3L1228.3 335.3L1232.0 334.3L1234.8 326.0L1237.5 318.6L1239.4 313.1L1242.2 313.1L1244.0 319.6L1245.9 313.1L1248.1 313.1L1249.6 322.3L1252.3 327.0L1256.0 327.9L1260.6 327.0L1264.3 327.9L1267.1 329.7L1269.9 336.2L1272.7 333.4L1273.6 326.0L1277.3 325.1L1281.0 326.0L1283.7 329.7L1286.5 331.6L1289.3 336.2L1293.0 334.3L1295.8 338.0L1299.4 334.3L1302.2 341.7L1305.0 335.3L1306.8 343.6L1308.7 348.2L1311.5 344.5L1314.2 346.4L1317.0 354.7L1318.9 361.1L1322.5 363.9" fill="none" stroke="#000000" stroke-width="2.55" stroke-linejoin="round" stroke-linecap="round"/>
<path d="M772.8 331.6L775.2 328.8L778.9 328.8L781.6 334.4L784.4 329.7L787.2 328.8L790.9 330.7L793.7 331.6L797.3 333.4L800.1 337.1L803.8 339.9L806.6 338.1L808.4 344.5L809.4 352.8L812.1 355.6L817.7 355.1L824.1 353.8L827.8 348.2L832.5 345.5L834.3 341.8L835.2 332.5L838.0 331.6L840.8 332.5L844.5 335.3L847.3 339.0L850.0 334.4L852.8 326.0L855.6 323.3L858.3 326.0L861.1 329.7L863.9 327.9L866.7 327.0L869.4 326.0L872.2 331.6L875.9 334.4L878.7 338.1L881.5 341.8L884.2 339.0L887.0 335.3L890.7 333.4L893.5 330.7L894.4 338.1L897.2 342.7L900.9 346.4L904.6 349.1L907.3 347.3L909.2 350.1L912.0 352.8L914.7 350.1L917.5 343.6L921.2 339.0L924.0 334.4L926.7 336.2L928.6 342.7L932.3 343.6L935.1 338.1L937.8 331.6L940.6 328.8L944.3 327.9L947.1 330.7L949.8 338.1L951.7 342.7L953.5 339.0L956.3 343.6L959.1 339.0L961.9 341.8L965.0 339.9L966.1 341.8L969.8 345.5L972.6 347.3L976.3 345.5L979.0 342.7L981.8 340.8L984.6 343.6L988.3 347.3L992.9 351.0L997.5 351.9L1001.2 349.1L1005.8 345.5L1010.5 341.8L1013.2 339.9L1015.1 331.6L1017.8 327.9L1020.6 328.8L1022.5 335.3L1026.2 339.0L1028.9 339.9L1031.7 334.4L1033.6 330.7L1036.3 331.6L1038.2 337.1L1041.0 339.0L1043.7 331.6L1046.5 328.8L1050.2 327.9L1053.0 333.4L1055.7 335.3L1058.5 331.6L1061.3 330.7L1065.0 331.6L1067.8 337.1L1070.5 341.8L1073.3 339.0L1076.1 336.2L1079.8 337.1L1083.5 340.8L1087.2 342.7L1090.9 341.8L1095.5 339.9L1100.1 340.8L1102.0 345.5L1102.9 350.1L1108.4 349.1L1110.3 341.8L1113.0 334.4L1115.8 329.7L1119.5 328.8L1122.3 330.7L1124.1 335.3L1127.8 337.1L1131.5 336.2L1135.0 336.2L1137.8 340.8L1140.5 343.6L1144.2 340.8L1147.0 337.1L1149.8 339.0L1153.5 343.6L1156.2 338.0L1159.0 329.7L1162.7 328.8L1164.6 333.4L1167.3 341.7L1172.0 343.6L1175.7 345.4L1180.3 346.4L1183.0 351.9L1184.9 344.5L1188.6 341.7L1193.2 342.7L1197.8 345.4L1201.5 339.9L1205.2 333.4L1206.1 340.8L1208.9 341.7L1211.7 330.7L1213.5 326.0L1217.2 325.1L1219.1 333.4L1220.9 342.7L1223.7 337.1L1226.5 336.2L1230.2 337.1L1234.8 335.3L1239.4 333.4L1243.1 328.8L1245.9 324.2L1247.7 329.7L1249.6 338.0L1252.3 336.2L1255.1 333.4L1257.9 336.2L1261.6 336.2L1265.3 339.9L1269.9 339.9L1274.5 339.0L1279.1 338.0L1282.8 342.7L1285.6 339.0L1289.3 339.9L1293.0 340.8L1295.8 336.2L1298.5 334.3L1302.2 337.1L1305.0 339.9L1308.7 339.0L1312.4 336.2L1315.2 326.0L1317.9 324.2L1320.7 325.1L1322.5 336.2L1323.5 350.1" fill="none" stroke="#EFA820" stroke-width="2.45" stroke-linejoin="round" stroke-linecap="round"/>
<path d="M774.2 351.0L778.9 348.2L782.6 345.5L785.3 341.8L789.0 339.0L791.8 333.4L793.7 329.7L796.4 334.4L800.1 338.1L802.9 339.0L805.7 332.5L807.5 338.1L810.3 344.5L813.4 350.1L816.8 341.8L820.5 339.9L824.1 339.0L826.9 331.6L829.7 320.5L833.4 317.7L836.2 326.0L838.9 333.4L842.6 338.1L846.3 342.7L849.1 343.6L852.8 339.9L855.6 334.4L858.3 333.4L860.2 339.9L863.0 336.2L866.7 332.5L870.4 327.0L874.1 329.7L877.8 330.7L882.4 328.8L887.0 331.6L891.6 334.4L896.2 337.1L900.9 339.0L905.5 339.0L911.0 339.9L914.7 338.1L916.6 329.7L918.4 327.9L922.1 329.7L924.0 339.0L926.7 346.4L929.5 343.6L933.2 336.2L937.8 331.6L942.4 334.4L947.1 338.1L949.8 337.1L953.5 332.5L957.2 333.4L960.9 340.8L965.0 347.3L967.0 339.0L968.9 338.1L971.6 342.7L974.4 339.9L978.1 339.0L982.7 337.1L987.3 336.2L989.2 326.0L991.0 323.3L993.8 327.0L995.7 326.0L998.4 329.7L999.4 327.0L1001.2 341.8L1003.4 351.9L1005.8 349.1L1009.5 346.4L1014.1 346.4L1018.8 348.2L1023.4 346.4L1027.1 340.8L1030.8 339.0L1034.5 339.9L1038.2 341.8L1041.9 338.1L1045.6 346.4L1048.3 339.9L1051.1 333.4L1053.0 326.0L1055.7 332.5L1057.6 339.9L1060.4 346.4L1064.1 342.7L1067.8 343.6L1071.5 346.4L1075.1 342.7L1078.8 339.0L1081.6 328.8L1084.4 327.9L1088.1 327.9L1090.9 329.7L1093.6 320.5L1096.4 324.2L1100.1 327.0L1102.9 333.4L1105.6 335.3L1108.4 333.4L1112.1 337.1L1115.8 340.8L1119.5 339.9L1122.3 342.7L1126.0 344.5L1129.7 343.6L1132.4 338.1L1134.3 335.3L1135.0 340.8L1137.8 344.5L1141.5 342.7L1145.2 339.0L1148.9 340.8L1153.5 339.0L1158.1 335.3L1161.8 336.2L1165.5 335.3L1169.2 331.6L1172.0 333.4L1173.8 342.7L1176.6 349.1L1180.3 349.1L1183.4 342.7L1185.8 334.3L1187.7 339.9L1190.4 342.7L1193.2 334.3L1196.0 331.6L1198.7 333.4L1200.6 339.9L1204.3 339.0L1208.9 337.1L1213.5 335.3L1218.1 333.4L1220.0 328.8L1224.6 327.9L1228.3 329.7L1231.1 334.3L1232.9 343.6L1235.7 345.4L1238.5 343.6L1242.2 347.3L1245.9 349.1L1248.6 354.7L1251.4 352.8L1254.2 341.7L1257.0 338.0L1261.6 336.2L1266.2 334.3L1268.0 327.0L1271.7 325.1L1274.5 331.6L1278.2 333.4L1282.8 334.3L1285.6 338.0L1289.3 340.8L1293.0 342.7L1296.7 347.3L1300.4 352.8L1304.1 351.0L1306.8 343.6L1309.6 340.8L1313.3 338.0L1317.9 338.0L1321.6 339.9L1323.5 343.6" fill="none" stroke="#38BDF0" stroke-width="2.6" stroke-linejoin="round" stroke-linecap="round"/>
</g>
<rect x="524.6" y="53.6" width="75.80" height="152.80" fill="#fff" stroke="#3a3a3a" stroke-width="1.1"/>
<path d="M530.2 68H580.1" stroke="#F26430" stroke-width="2.2"/>
<text x="584.2" y="74.23" font-size="17.4">1</text>
<path d="M530.2 93H580.1" stroke="#3748A6" stroke-width="2.7"/>
<text x="584.2" y="99.23" font-size="17.4">2</text>
<path d="M530.2 117.9H580.1" stroke="#000000" stroke-width="2.6"/>
<text x="584.2" y="124.13" font-size="17.4">3</text>
<path d="M530.2 142.8H580.1" stroke="#EFA820" stroke-width="2.3"/>
<text x="584.2" y="149.03" font-size="17.4">4</text>
<path d="M530.2 167.2H580.1" stroke="#3A9BE0" stroke-width="2.4"/>
<text x="584.2" y="173.43" font-size="17.4">5</text>
<path d="M530.2 191.8H580.1" stroke="#808080" stroke-width="2.3"/>
<text x="584.2" y="198.03" font-size="17.4">6</text>
<rect x="1237.6" y="56.3" width="76.40" height="130.70" fill="#fff" stroke="#3a3a3a" stroke-width="1.1"/>
<path d="M1242.9 71.3H1293.5" stroke="#F26430" stroke-width="2.2"/>
<text x="1297.6" y="77.74" font-size="18">1</text>
<path d="M1242.9 96.4H1293.5" stroke="#3748A6" stroke-width="2.7"/>
<text x="1297.6" y="102.84" font-size="18">2</text>
<path d="M1242.9 121.7H1293.5" stroke="#000000" stroke-width="2.6"/>
<text x="1297.6" y="128.14" font-size="18">3</text>
<path d="M1242.9 146.8H1293.5" stroke="#EFA820" stroke-width="2.3"/>
<text x="1297.6" y="153.24" font-size="18">4</text>
<path d="M1242.9 172.1H1293.5" stroke="#38BDF0" stroke-width="2.4"/>
<text x="1297.6" y="178.54" font-size="18">5</text>
<text transform="translate(3.3 24) scale(1.06 1)" font-size="28.5" font-weight="bold" fill="#000">A</text>
<text x="706.2" y="24.2" font-size="29.4" font-weight="bold" fill="#000">B</text>
<text x="339.4" y="529.8" text-anchor="middle" font-size="21.7" letter-spacing="0.3">Angle/°</text>
<text x="1048.3" y="532.4" text-anchor="middle" font-size="21.7" letter-spacing="0.55">Angle/°</text>
<text transform="translate(19.8 257.7) rotate(-90)" text-anchor="middle" font-size="21.6" letter-spacing="0.28">Photon number</text>
<text transform="translate(724 260.3) rotate(-90)" text-anchor="middle" font-size="21.6" letter-spacing="0.44">Photon number</text>
</g>
</svg>
</body></html>
